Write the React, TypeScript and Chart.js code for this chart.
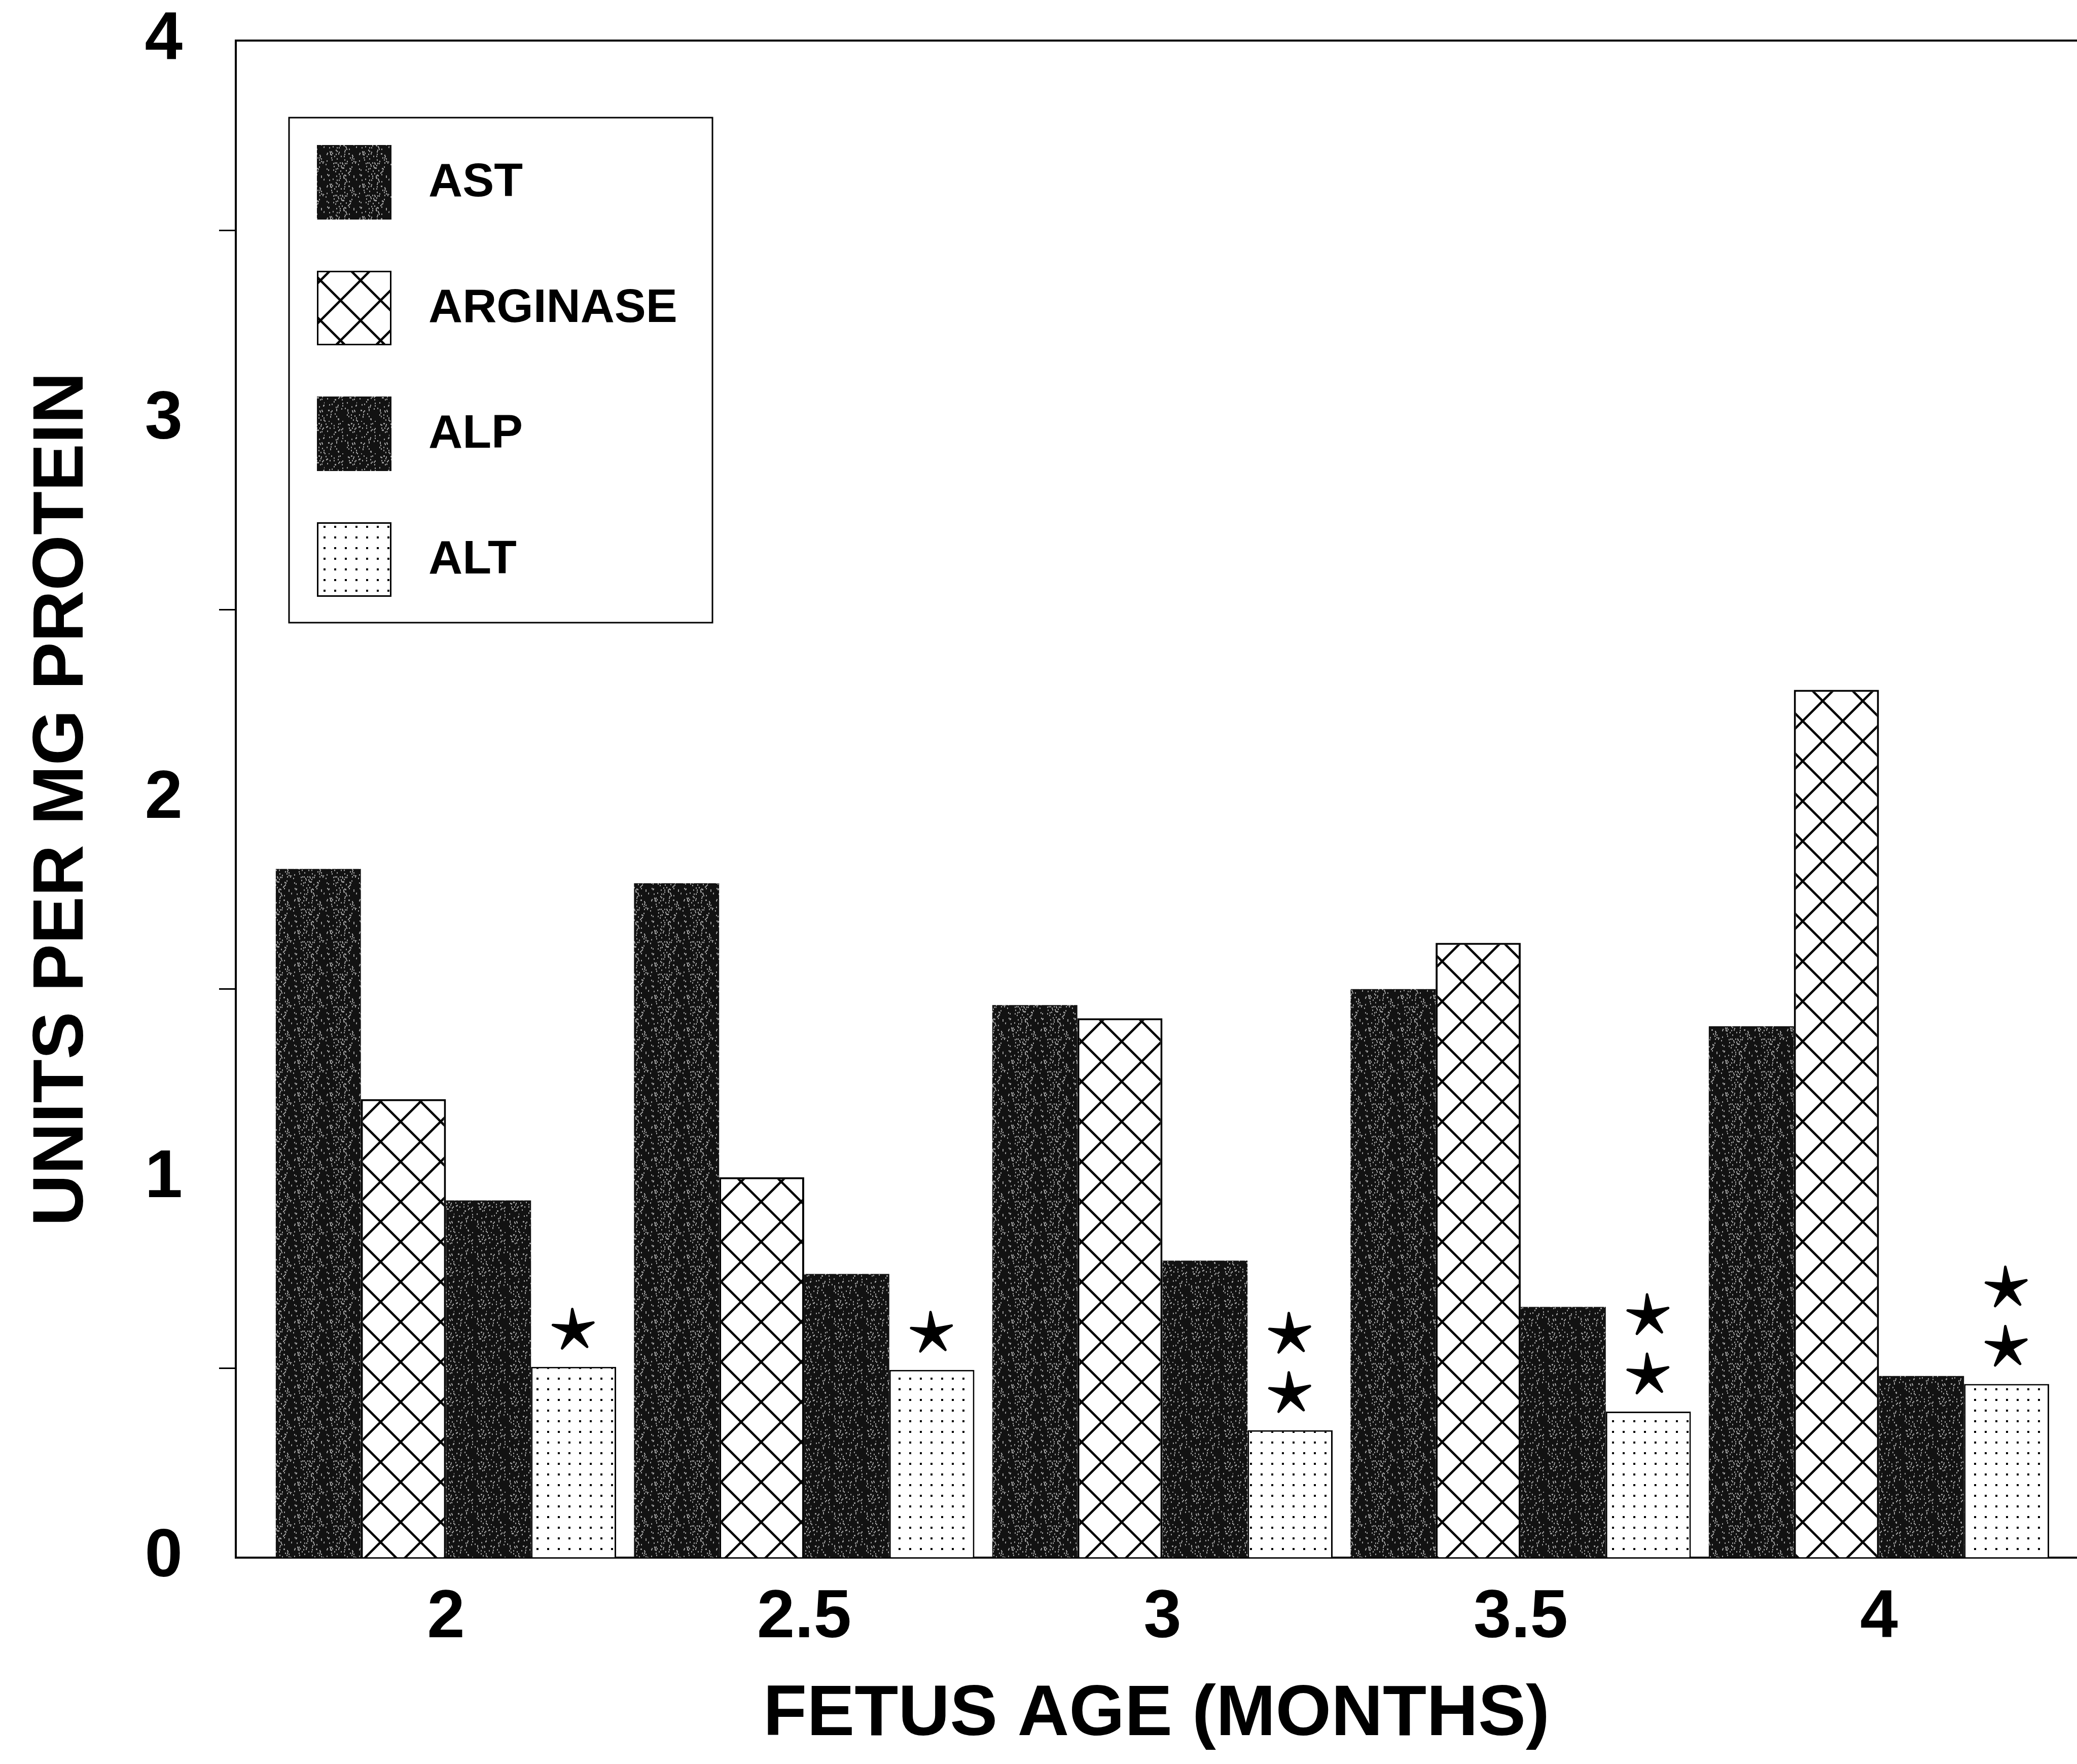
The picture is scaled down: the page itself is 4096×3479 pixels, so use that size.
import React, { useEffect, useRef } from 'react';
import { Chart, registerables } from 'chart.js';

Chart.register(...registerables);

// ---- data ----
const CATEGORIES = [2, 2.5, 3, 3.5, 4];
const X_TICK_LABELS = ['2', '2.5', '3', '3.5', '4'];
const AST = [1.816, 1.778, 1.457, 1.499, 1.401];
const ARGINASE = [1.209, 1.003, 1.422, 1.621, 2.288];
const ALP = [0.942, 0.748, 0.783, 0.661, 0.479];
const ALT = [0.503, 0.495, 0.336, 0.385, 0.458];
const STAR_COUNTS = [1, 1, 2, 2, 2];
const SERIES_NAMES = ['AST', 'ARGINASE', 'ALP', 'ALT'];
const Y_TICK_LABELS = ['0', '1', '2', '3', '4'];
const X_TITLE = 'FETUS AGE (MONTHS)';
const Y_TITLE = 'UNITS PER MG PROTEIN';

// axis ranges
const X_MIN = 1.7067;
const X_MAX = 4.2764;
const Y_MIN = 0;
const Y_MAX = 4;

const FAMILY = '"Liberation Sans", Arial, Helvetica, sans-serif';

function makeGrain(ctx: CanvasRenderingContext2D, seed: number, count: number) {
  const c = document.createElement('canvas');
  c.width = 64;
  c.height = 64;
  const g = c.getContext('2d')!;
  g.fillStyle = '#121212';
  g.fillRect(0, 0, 64, 64);
  let s = seed >>> 0;
  const next = () => {
    s = (Math.imul(s, 1103515245) + 12345) >>> 0;
    return (s >>> 8) % 64;
  };
  g.fillStyle = '#9a9a9a';
  for (let i = 0; i < count; i++) {
    const x = next();
    const y = next();
    g.fillRect(x, y, 2, 3);
  }
  return ctx.createPattern(c, 'repeat')!;
}

function makeHatch(ctx: CanvasRenderingContext2D) {
  const s = 79;
  const c = document.createElement('canvas');
  c.width = s;
  c.height = s;
  const g = c.getContext('2d')!;
  g.fillStyle = '#ffffff';
  g.fillRect(0, 0, s, s);
  g.strokeStyle = '#000000';
  g.lineWidth = 4.5;
  for (let k = -1; k <= 1; k++) {
    g.beginPath();
    g.moveTo(k * s, 0);
    g.lineTo(k * s + s, s);
    g.stroke();
    g.beginPath();
    g.moveTo(k * s, s);
    g.lineTo(k * s + s, 0);
    g.stroke();
  }
  return ctx.createPattern(c, 'repeat')!;
}

function makeDots(ctx: CanvasRenderingContext2D) {
  const c = document.createElement('canvas');
  c.width = 21;
  c.height = 21;
  const g = c.getContext('2d')!;
  g.fillStyle = '#ffffff';
  g.fillRect(0, 0, 21, 21);
  g.fillStyle = '#000000';
  g.fillRect(8, 8, 4, 4);
  return ctx.createPattern(c, 'repeat')!;
}

function drawStar(ctx: CanvasRenderingContext2D, cx: number, cy: number, R: number, r: number) {
  ctx.beginPath();
  for (let k = 0; k < 10; k++) {
    const ang = -Math.PI / 2 - 0.06 + (k * Math.PI) / 5;
    const rad = k % 2 === 0 ? R : r;
    const px = cx + rad * Math.cos(ang);
    const py = cy + rad * Math.sin(ang);
    if (k === 0) ctx.moveTo(px, py);
    else ctx.lineTo(px, py);
  }
  ctx.closePath();
  ctx.fill();
  ctx.stroke();
}

export default function App() {
  const ref = useRef<HTMLCanvasElement>(null);

  useEffect(() => {
    const canvas = ref.current!;
    const ctx = canvas.getContext('2d')!;
    const grainA = makeGrain(ctx, 12345, 95);
    const grainB = makeGrain(ctx, 987, 80);
    const hatch = makeHatch(ctx);
    const dots = makeDots(ctx);
    const fills = [grainA, hatch, grainB, dots];
    const borders = [0, 4, 0, 3];

    const framePlugin = {
      id: 'frameTop',
      afterDraw(chart: any) {
        const { ctx: c, chartArea: a } = chart;
        c.save();
        c.strokeStyle = '#000';
        c.lineWidth = 4;
        c.beginPath();
        c.moveTo(a.left - 2, a.top);
        c.lineTo(a.right, a.top);
        c.stroke();
        c.restore();
      },
    };

    const starsPlugin = {
      id: 'stars',
      afterDatasetsDraw(chart: any) {
        const c = chart.ctx as CanvasRenderingContext2D;
        const meta = chart.getDatasetMeta(3);
        c.save();
        c.fillStyle = '#000';
        c.strokeStyle = '#000';
        c.lineWidth = 5;
        c.lineJoin = 'round';
        meta.data.forEach((bar: any, i: number) => {
          for (let k = 0; k < STAR_COUNTS[i]; k++) {
            drawStar(c, bar.x, bar.y - 72 - k * 117, 42, 11);
          }
        });
        c.restore();
      },
    };

    const legendPlugin = {
      id: 'boxLegend',
      afterDraw(chart: any) {
        const c = chart.ctx as CanvasRenderingContext2D;
        const a = chart.chartArea;
        const bx = a.left + 105;
        const by = a.top + 152;
        const bw = 835;
        const bh = 996;
        c.save();
        c.fillStyle = '#fff';
        c.fillRect(bx, by, bw, bh);
        c.strokeStyle = '#000';
        c.lineWidth = 3;
        c.strokeRect(bx, by, bw, bh);
        const sw = 147;
        SERIES_NAMES.forEach((name, i) => {
          const sy = by + 54 + i * 248;
          const sx = bx + 55;
          c.fillStyle = fills[i] as any;
          c.fillRect(sx, sy, sw, sw);
          if (borders[i] > 0) {
            c.lineWidth = 3;
            c.strokeStyle = '#000';
            c.strokeRect(sx + 1.5, sy + 1.5, sw - 3, sw - 3);
          }
          c.fillStyle = '#000';
          c.font = `bold 93px ${FAMILY}`;
          c.textAlign = 'left';
          c.textBaseline = 'middle';
          c.fillText(name, bx + 275, sy + sw / 2 + 2);
        });
        c.restore();
      },
    };

    const series = [AST, ARGINASE, ALP, ALT];

    const chart = new Chart(canvas, {
      type: 'bar',
      data: {
        datasets: series.map((vals, si) => ({
          label: SERIES_NAMES[si],
          data: CATEGORIES.map((x, i) => ({ x, y: vals[i] })),
          backgroundColor: fills[si] as any,
          borderColor: '#000',
          borderWidth: borders[si],
          borderSkipped: 'bottom' as const,
          categoryPercentage: 0.95,
          barPercentage: 1.0,
        })),
      },
      options: {
        responsive: false,
        animation: false,
        devicePixelRatio: 1,
        layout: { padding: { top: 80, left: 0, right: 0, bottom: 0 } },
        plugins: {
          legend: { display: false },
          tooltip: { enabled: false },
          title: { display: false },
        },
        scales: {
          x: {
            type: 'linear',
            min: X_MIN,
            max: X_MAX,
            offset: false,
            afterBuildTicks: (axis: any) => {
              axis.ticks = CATEGORIES.map((v) => ({ value: v }));
            },
            afterFit: (s: any) => {
              s.height = 407;
              s.paddingLeft = 0;
              s.paddingRight = 0;
            },
            grid: { display: true, drawOnChartArea: false, drawTicks: false, offset: false },
            border: { display: true, color: '#000', width: 4 },
            ticks: {
              autoSkip: false,
              maxRotation: 0,
              padding: 40,
              color: '#000',
              font: { family: FAMILY, size: 134, weight: 'bold' },
              callback: (v: any) => {
                const idx = CATEGORIES.indexOf(Number(v));
                return idx >= 0 ? X_TICK_LABELS[idx] : '';
              },
            },
            title: {
              display: true,
              text: X_TITLE,
              color: '#000',
              font: { family: FAMILY, size: 141, weight: 'bold' },
              padding: { top: 0, bottom: 11 },
            },
          },
          y: {
            type: 'linear',
            min: Y_MIN,
            max: Y_MAX,
            afterFit: (s: any) => {
              s.width = 465;
              s.paddingTop = 0;
              s.paddingBottom = 0;
            },
            grid: {
              display: true,
              drawOnChartArea: false,
              drawTicks: true,
              tickLength: 33,
              tickWidth: 3,
              tickColor: (c: any) =>
                c.tick && Number.isInteger(c.tick.value) ? 'rgba(0,0,0,0)' : '#000',
            },
            border: { display: true, color: '#000', width: 4 },
            ticks: {
              stepSize: 0.5,
              autoSkip: false,
              padding: 72,
              color: '#000',
              font: { family: FAMILY, size: 134, weight: 'bold' },
              callback: (v: any) => (Number.isInteger(v) ? Y_TICK_LABELS[v] : ''),
            },
            title: {
              display: true,
              text: Y_TITLE,
              color: '#000',
              font: { family: FAMILY, size: 141, weight: 'bold' },
              padding: { top: 40, bottom: 0 },
            },
          },
        },
      } as any,
      plugins: [framePlugin, starsPlugin, legendPlugin],
    });

    return () => chart.destroy();
  }, []);

  return (
    <canvas
      ref={ref}
      width={4096}
      height={3479}
      style={{ position: 'absolute', left: 0, top: 0, width: '4096px', height: '3479px', display: 'block' }}
    />
  );
}
